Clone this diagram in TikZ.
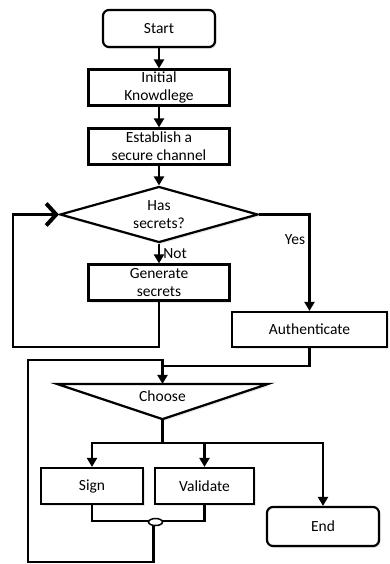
\documentclass[tikz,border=0pt]{standalone}
\usepackage{fontspec}
\setmainfont{Carlito}
\usetikzlibrary{shapes.geometric, positioning, arrows.meta, shadows}

\begin{document}
\begin{tikzpicture}[x=1pt, y=-1pt, line width=2.2pt, node distance=59pt,
        font=\fontsize{15.5}{18}\selectfont,
        shade/.style={drop shadow={shadow xshift=1.5pt, shadow yshift=-2pt, opacity=0.18}},
        box/.style={draw, fill=white, rectangle, shade, minimum width=141pt, minimum height=36pt, inner sep=0pt, align=center},
        term/.style={box, rounded corners=6pt, minimum width=112pt, minimum height=37pt},
        decision/.style={draw, fill=white, diamond, shade, aspect=3.5, minimum width=198pt, minimum height=56pt, inner sep=0pt, align=center},
        arr/.style={-{Triangle[width=10pt,length=9pt]}},
        back/.style={-{Straight Barb[length=10pt,width=22pt,line width=4pt]}}]
        \useasboundingbox (0,0) rectangle (389,564);

        \node[term] (start) at (159,28.5) {Start};
        \node[box, below of=start] (init) {Initial\\Knowdlege};
        \node[box, below of=init] (est) {Establish a\\secure channel};
        \node[decision, below of=est, node distance=68pt] (has) {Has\\secrets?};
        \node[box, below of=has, node distance=68pt] (gen) {Generate\\secrets};
        \node[box, minimum width=155pt, minimum height=35pt] (auth) at (309.5,329.5) {Authenticate};
        \node[minimum width=209pt, minimum height=33pt, inner sep=0pt] (choose) at (162.5,401.5) {};
        \node[box, minimum width=102pt] (sign) at (92,486) {Sign};
        \node[box, minimum width=99pt] (valid) at (204.5,486) {Validate};
        \node[term, minimum height=39pt] (end) at (323,526.5) {End};

        \coordinate (loopL) at (13,347);
        \coordinate (mrg) at (162.5,366);
        \coordinate (split) at (162.5,443);
        \coordinate (outL) at (28,562);
        \coordinate (outT) at (162.5,360);

        % choose (merge triangle)
        \draw[fill=white, shade] (choose.north west) -- (choose.north east) -- (choose.south) -- cycle;
        \node (chooseTxt) at (162.5,396) {Choose};

        \draw[arr] (start) -- (init);
        \draw[arr] (init) -- (est);
        \draw[arr] (est) -- (has);
        \draw[arr] (has) -- node[right] {Not} (gen);
        \draw[back] (gen.south) |- (loopL) |- (has.west);
        \draw[arr] (has.east) -| node[pos=0.63, left] {Yes} (auth.north);
        \draw[arr] (auth.south) |- (mrg) -- (choose.north);

        \draw (sign.south) |- (valid.south |- 0,521) -- (valid.south);
        \node[draw, fill=white, ellipse, minimum width=14pt, minimum height=7pt, inner sep=0pt, line width=1.5pt] (join) at (155.5,522) {};
        \draw (join.-115) |- (outL) |- (outT) -- (mrg);

        \draw (choose.south) -- (split);
        \draw[arr] (split) -| (sign.north);
        \draw[arr] (split) -| (valid.north);
        \draw[arr] (split) -| (end.north);
\end{tikzpicture}
\end{document}
